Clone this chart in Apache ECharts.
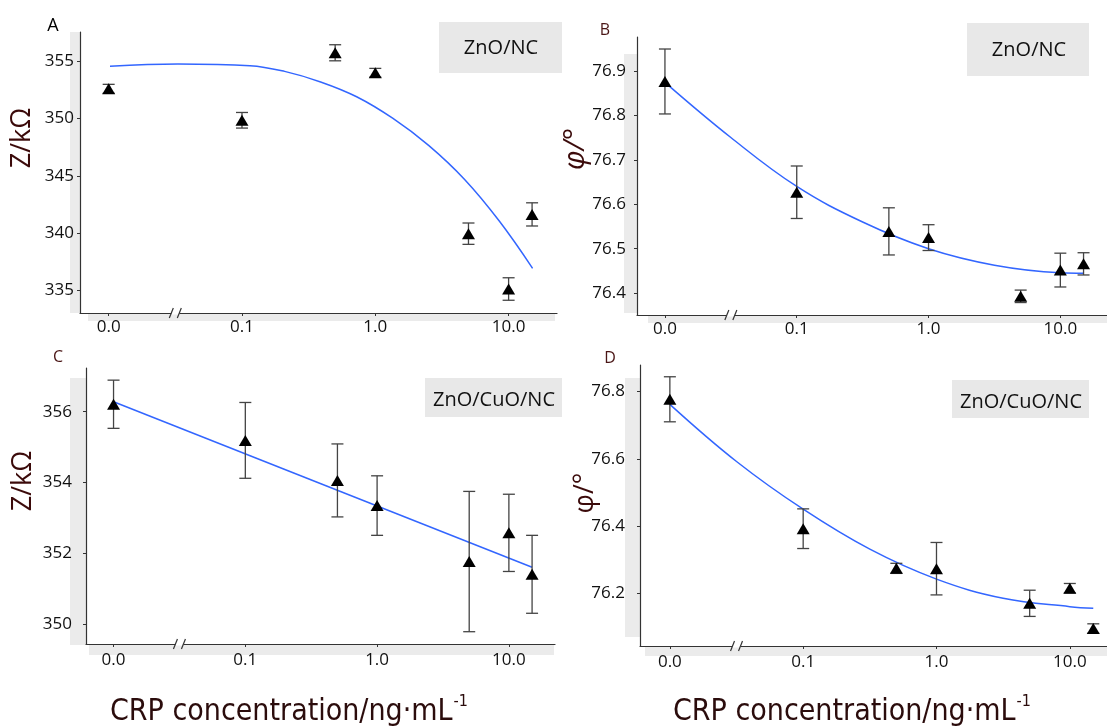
<!DOCTYPE html>
<html>
<head>
<meta charset="utf-8">
<script src="https://cdn.jsdelivr.net/npm/echarts@6/dist/echarts.min.js"></script>
<style>
html,body{margin:0;padding:0;background:#fff;}
#chart{width:1107px;height:728px;}
</style>
</head>
<body>
<div id="chart"></div>
<script>
// ---------------- data ----------------
const concentrations = [0, 0.1, 0.5, 1, 5, 10, 15];
const xTickValues = [0, 0.1, 1, 10];
const xTickLabels = ['0.0', '0.1', '1.0', '10.0'];

// Panel A: ZnO/NC impedance
const zA = [352.58, 349.84, 355.72, 353.98, 339.96, 335.14, 341.64];
const errA = [0.39, 0.68, 0.70, 0.38, 0.93, 0.98, 1.01];
// Panel B: ZnO/NC phase
const phiB = [76.876, 76.627, 76.539, 76.525, 76.393, 76.452, 76.466];
const errB = [0.073, 0.059, 0.053, 0.029, 0.014, 0.038, 0.025];
// Panel C: ZnO/CuO/NC impedance
const zC = [356.21, 355.19, 354.06, 353.35, 351.77, 352.58, 351.41];
const errC = [0.68, 1.07, 1.03, 0.84, 1.98, 1.09, 1.10];
// Panel D: ZnO/CuO/NC phase
const phiD = [76.777, 76.392, 76.274, 76.273, 76.170, 76.215, 76.095];
const errD = [0.067, 0.059, 0.015, 0.078, 0.039, 0.014, 0.014];

// fitted curves (x in axis position units: 0.0 -> -2, 0.1 -> -1, 1 -> 0, 10 -> 1)
const fitPosA = [-1.99, -1.48, -0.94, -0.68, -0.41, -0.14, 0.13, 0.40, 0.67, 0.93, 1.18];
const fitA = [354.54, 354.74, 354.60, 354.10, 353.18, 351.89, 350.02, 347.65, 344.68, 341.06, 336.94];
const fitPosB = [-2, -1.5, -1, -0.5, 0, 0.5, 1, 1.176];
const fitB = [76.874, 76.750, 76.640, 76.560, 76.500, 76.463, 76.446, 76.445];
const fitPosC = [-2, 1.176];
const fitC = [356.28, 351.61];
const fitPosD = [-2, -1.5, -1, -0.5, 0, 0.5, 1, 1.176];
const fitD = [76.762, 76.592, 76.450, 76.331, 76.242, 76.185, 76.160, 76.155];

const yTicksA = [335, 340, 345, 350, 355];
const yTicksB = [76.4, 76.5, 76.6, 76.7, 76.8, 76.9];
const yTicksC = [350, 352, 354, 356];
const yTicksD = [76.2, 76.4, 76.6, 76.8];

const panelLetters = ['A', 'B', 'C', 'D'];
const materialLabels = ['ZnO/NC', 'ZnO/NC', 'ZnO/CuO/NC', 'ZnO/CuO/NC'];
const yNames = ['Z/kΩ', 'φ/°', 'Z/kΩ', 'φ/°'];
const xTitle = 'CRP concentration/ng·mL';
const xTitleSup = '-1';

// ---------------- helpers ----------------
function axisPos(c) { return c === 0 ? -2 : Math.log10(c); }

const panels = [
  {vals: zA, err: errA, fitX: fitPosA, fitY: fitA, yTicks: yTicksA, dec: 0,
   grid: {left: 80, top: 32, width: 477, height: 281}, xmin: -2.215, xmax: 1.363, ymin: 333.05, ymax: 357.53,
   ylm: 6, xlm: 6, name: {x: 22, y: 138, size: 27, style: 'normal'}},
  {vals: phiB, err: errB, fitX: fitPosB, fitY: fitB, yTicks: yTicksB, dec: 1,
   grid: {left: 637, top: 37, width: 470, height: 278}, xmin: -2.212, xmax: 1.354, ymin: 76.351, ymax: 76.976,
   ylm: 11, xlm: 6, name: {x: 576, y: 149, size: 29, style: 'italic'}},
  {vals: zC, err: errC, fitX: fitPosC, fitY: fitC, yTicks: yTicksC, dec: 0,
   grid: {left: 86, top: 368, width: 469, height: 276}, xmin: -2.209, xmax: 1.35, ymin: 349.443, ymax: 357.233,
   ylm: 14, xlm: 8, name: {x: 23, y: 481, size: 27, style: 'normal'}},
  {vals: phiD, err: errD, fitX: fitPosD, fitY: fitD, yTicks: yTicksD, dec: 1,
   grid: {left: 640, top: 365, width: 467, height: 281}, xmin: -2.224, xmax: 1.279, ymin: 76.043, ymax: 76.879,
   ylm: 15, xlm: 8, name: {x: 585, y: 493, size: 27, style: 'normal'}}
];

const axisColor = '#333';
const labelFont = '"Open Sans", "DejaVu Sans", sans-serif';
const nameColor = '#3b0a0a';

const grids = [], xAxes = [], yAxes = [], series = [];
panels.forEach((p, i) => {
  grids.push(Object.assign({containLabel: false}, p.grid));
  xAxes.push({
    type: 'value', gridIndex: i, min: p.xmin, max: p.xmax,
    splitLine: {show: false},
    axisLine: {show: true, onZero: false, lineStyle: {color: axisColor, width: 1.2}},
    axisTick: {show: true, length: 3, customValues: xTickValues.map(axisPos), lineStyle: {color: axisColor}},
    axisLabel: {
      show: true, margin: p.xlm, fontSize: 17, fontFamily: labelFont, color: '#111',
      customValues: xTickValues.map(axisPos),
      formatter: v => {
        const k = xTickValues.map(axisPos).findIndex(t => Math.abs(t - v) < 1e-6);
        return k >= 0 ? xTickLabels[k] : '';
      }
    }
  });
  yAxes.push({
    type: 'value', gridIndex: i, min: p.ymin, max: p.ymax,
    splitLine: {show: false},
    axisLine: {show: true, onZero: false, lineStyle: {color: axisColor, width: 1.2}},
    axisTick: {show: true, length: 3, customValues: p.yTicks, lineStyle: {color: axisColor}},
    axisLabel: {
      show: true, margin: p.ylm, fontSize: 17, fontFamily: labelFont, color: '#111',
      customValues: p.yTicks,
      formatter: v => v.toFixed(p.dec)
    }
  });
  // fitted line
  series.push({
    type: 'line', xAxisIndex: i, yAxisIndex: i, smooth: 0.4, showSymbol: false, symbol: 'none',
    data: p.fitX.map((x, k) => [x, p.fitY[k]]),
    lineStyle: {color: '#3366FF', width: 1.5}, z: 3
  });
  // error bars
  series.push({
    type: 'custom', xAxisIndex: i, yAxisIndex: i, z: 4,
    data: concentrations.map((c, k) => [axisPos(c), p.vals[k] - p.err[k], p.vals[k] + p.err[k]]),
    renderItem: (params, api) => {
      const x = api.value(0);
      const lo = api.coord([x, api.value(1)]);
      const hi = api.coord([x, api.value(2)]);
      const hw = 6;
      const st = {stroke: '#444', lineWidth: 1.3};
      return {type: 'group', children: [
        {type: 'line', shape: {x1: lo[0], y1: lo[1], x2: hi[0], y2: hi[1]}, style: st},
        {type: 'line', shape: {x1: lo[0] - hw, y1: lo[1], x2: lo[0] + hw, y2: lo[1]}, style: st},
        {type: 'line', shape: {x1: hi[0] - hw, y1: hi[1], x2: hi[0] + hw, y2: hi[1]}, style: st}
      ]};
    }
  });
  // triangles
  series.push({
    type: 'scatter', xAxisIndex: i, yAxisIndex: i, z: 5,
    symbol: 'triangle', symbolSize: [13, 11],
    data: concentrations.map((c, k) => [axisPos(c), p.vals[k]]),
    itemStyle: {color: '#000', opacity: 1}
  });
});

// decorations (grey strips and labels)
const grey = '#ebebeb';
const titleFamily = '"Liberation Sans Narrow", "DejaVu Sans Condensed", sans-serif';
const titleSize = 30;
const titleX = [110, 673];
const graphic = [
  // y-axis strips
  {type: 'rect', shape: {x: 70, y: 32, width: 10, height: 281}, style: {fill: grey}, z: -1},
  {type: 'rect', shape: {x: 624, y: 54, width: 13, height: 259}, style: {fill: grey}, z: -1},
  {type: 'rect', shape: {x: 70, y: 378, width: 16, height: 267}, style: {fill: grey}, z: -1},
  {type: 'rect', shape: {x: 625, y: 378, width: 15, height: 259}, style: {fill: grey}, z: -1},
  // x-axis strips
  {type: 'rect', shape: {x: 88, y: 314, width: 467, height: 7}, style: {fill: grey}, z: -1},
  {type: 'rect', shape: {x: 648, y: 316, width: 459, height: 7}, style: {fill: grey}, z: -1},
  {type: 'rect', shape: {x: 89, y: 645, width: 465, height: 10}, style: {fill: grey}, z: -1},
  {type: 'rect', shape: {x: 645, y: 647, width: 462, height: 9}, style: {fill: grey}, z: -1},
  // material boxes
  {type: 'rect', shape: {x: 439, y: 22, width: 123, height: 51}, style: {fill: '#e8e8e8'}, z: 1},
  {type: 'text', x: 501, y: 48, style: {text: materialLabels[0], fontSize: 20, fontFamily: labelFont, fill: '#111', align: 'center', verticalAlign: 'middle'}, z: 2},
  {type: 'rect', shape: {x: 967, y: 23, width: 122, height: 53}, style: {fill: '#e8e8e8'}, z: 1},
  {type: 'text', x: 1029, y: 50, style: {text: materialLabels[1], fontSize: 20, fontFamily: labelFont, fill: '#111', align: 'center', verticalAlign: 'middle'}, z: 2},
  {type: 'rect', shape: {x: 425, y: 378, width: 137, height: 39}, style: {fill: '#e8e8e8'}, z: 1},
  {type: 'text', x: 494, y: 400, style: {text: materialLabels[2], fontSize: 20, fontFamily: labelFont, fill: '#111', align: 'center', verticalAlign: 'middle'}, z: 2},
  {type: 'rect', shape: {x: 952, y: 380, width: 137, height: 38}, style: {fill: '#e8e8e8'}, z: 1},
  {type: 'text', x: 1021, y: 402, style: {text: materialLabels[3], fontSize: 20, fontFamily: labelFont, fill: '#111', align: 'center', verticalAlign: 'middle'}, z: 2},
  // panel letters
  {type: 'text', x: 53, y: 26, style: {text: panelLetters[0], fontSize: 18, fontFamily: labelFont, fill: '#000', align: 'center', verticalAlign: 'middle'}},
  {type: 'text', x: 605, y: 30, style: {text: panelLetters[1], fontSize: 16, fontFamily: labelFont, fill: '#4a1616', align: 'center', verticalAlign: 'middle'}},
  {type: 'text', x: 58, y: 357, style: {text: panelLetters[2], fontSize: 16, fontFamily: labelFont, fill: '#4a1616', align: 'center', verticalAlign: 'middle'}},
  {type: 'text', x: 610, y: 358, style: {text: panelLetters[3], fontSize: 16, fontFamily: labelFont, fill: '#4a1616', align: 'center', verticalAlign: 'middle'}}
];
// x titles
titleX.forEach(x0 => {
  graphic.push({type: 'text', x: x0, y: 712, style: {text: xTitle, fontSize: titleSize, fontFamily: titleFamily, fill: '#2b0c0c', align: 'left', verticalAlign: 'middle'}});
});
// y-axis titles
panels.forEach((p, i) => {
  graphic.push({type: 'text', x: p.name.x, y: p.name.y, rotation: Math.PI / 2,
    style: {text: yNames[i], fontSize: p.name.size, fontFamily: labelFont, fontStyle: p.name.style,
      fill: nameColor, align: 'center', verticalAlign: 'middle'}});
});

const chart = echarts.init(document.getElementById('chart'), null, {renderer: 'canvas'});
chart.setOption({
  animation: false,
  backgroundColor: '#fff',
  grid: grids, xAxis: xAxes, yAxis: yAxes, series: series, graphic: graphic
});

// axis break marks and superscripts positioned from the chart scales / text metrics
const extra = [];
panels.forEach((p, i) => {
  const pt = chart.convertToPixel({xAxisIndex: i, yAxisIndex: i}, [-1.5, p.ymin]);
  const st = {stroke: '#333', lineWidth: 1.2};
  extra.push({type: 'rect', shape: {x: pt[0] - 4, y: pt[1] - 1.5, width: 8, height: 3}, style: {fill: '#fff'}, z: 10});
  extra.push({type: 'line', shape: {x1: pt[0] - 6, y1: pt[1] + 5, x2: pt[0] - 2, y2: pt[1] - 5}, style: st, z: 11});
  extra.push({type: 'line', shape: {x1: pt[0] + 2, y1: pt[1] + 5, x2: pt[0] + 6, y2: pt[1] - 5}, style: st, z: 11});
});
const cv = document.createElement('canvas').getContext('2d');
cv.font = titleSize + 'px ' + titleFamily;
const tw = cv.measureText(xTitle).width;
titleX.forEach(x0 => {
  extra.push({type: 'text', x: x0 + tw + 1, y: 702, style: {text: xTitleSup, fontSize: 16, fontFamily: titleFamily, fill: '#2b0c0c', align: 'left', verticalAlign: 'middle'}});
});
chart.setOption({graphic: graphic.concat(extra)});
</script>
</body>
</html>
